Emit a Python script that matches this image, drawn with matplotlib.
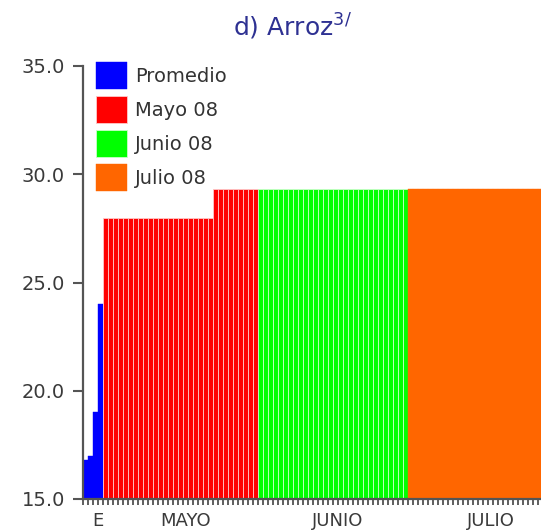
import matplotlib
matplotlib.use("Agg")
import matplotlib.pyplot as plt
import numpy as np

# ---- data ----
promedio = [16.8, 17.0, 19.0, 24.0]
mayo = [28.0, 28.0, 28.0, 28.0, 28.0, 28.0, 28.0, 28.0, 28.0, 28.0, 28.0,
        28.0, 28.0, 28.0, 28.0, 28.0, 28.0, 28.0, 28.0, 28.0, 28.0, 28.0,
        29.3, 29.3, 29.3, 29.3, 29.3, 29.3, 29.3, 29.3, 29.3]
junio = [29.3, 29.3, 29.3, 29.3, 29.3, 29.3, 29.3, 29.3, 29.3, 29.3,
         29.3, 29.3, 29.3, 29.3, 29.3, 29.3, 29.3, 29.3, 29.3, 29.3,
         29.3, 29.3, 29.3, 29.3, 29.3, 29.3, 29.3, 29.3, 29.3, 29.3]
julio = [29.3, 29.3, 29.3, 29.3, 29.3, 29.3, 29.3, 29.3, 29.3, 29.3,
         29.3, 29.3, 29.3, 29.3, 29.3, 29.3, 29.3, 29.3, 29.3, 29.3,
         29.3, 29.3, 29.3, 29.3, 29.3, 29.3, 29.3, 29.3, 29.3, 29.3, 29.3]
series_names = ["Promedio", "Mayo 08", "Junio 08", "Julio 08"]
group_labels = ["E", "MAYO", "JUNIO", "JULIO"]
yticks = [15.0, 20.0, 25.0, 30.0, 35.0]

colors = ["#0000ff", "#ff0000", "#00ff00", "#ff6600"]
edges = [None, "#ffc8c8", "#c8ffc8", None]

W, H = 541, 531
fig = plt.figure(figsize=(W / 100, H / 100), dpi=100)
ax = fig.add_axes([83 / W, 32 / H, (W - 83) / W, (499 - 66) / H])

groups = [promedio, mayo, junio, julio]
start = 0
centers = []
for vals, name, c, e in zip(groups, series_names, colors, edges):
    x = np.arange(start, start + len(vals))
    v = np.array(vals)
    if e is None:
        ax.bar(x, v - 15, bottom=15, width=1.0, color=c, edgecolor=c,
               linewidth=0.3, label=name)
    else:
        ax.bar(x, v - 15, bottom=15, width=1.0, color=c, edgecolor=e,
               linewidth=0.6, label=name)
    centers.append(start + (len(vals) - 1) / 2)
    start += len(vals)

ax.set_yticks(yticks)
ax.set_yticklabels([f"{t:.1f}" for t in yticks], fontsize=14, color="#3a3a3a")
ax.set_xticks(np.arange(0, start) - 0.5)
ax.set_xticklabels([])
ax.set_ylim(15, 35)
ax.set_xlim(-0.5, (W - 83) / 5.0 - 0.5)
ax.tick_params(axis="x", length=4, width=1.2, color="#444444", direction="out")
ax.tick_params(axis="y", length=7, width=1.5, color="#555555", direction="out", pad=6)

for s in ["top", "right"]:
    ax.spines[s].set_visible(False)
ax.spines["left"].set_linewidth(1.6)
ax.spines["left"].set_color("#555555")
ax.spines["bottom"].set_linewidth(1.6)
ax.spines["bottom"].set_color("#555555")

for cx, lab in zip(centers, group_labels):
    ax.annotate(lab, xy=(cx + 1.0, 0), xycoords=("data", "axes fraction"),
                xytext=(0, -15.5), textcoords="offset points",
                ha="center", va="center", fontsize=13, color="#3a3a3a",
                annotation_clip=False)

leg = ax.legend(loc="upper left", bbox_to_anchor=(96 / W, 1 - 62 / H),
                bbox_transform=fig.transFigure, frameon=False, fontsize=14,
                handlelength=1.6, handleheight=1.76, labelspacing=0.36,
                handletextpad=0.4, borderpad=0, borderaxespad=0)
for t in leg.get_texts():
    t.set_color("#333333")

fig.text(292 / W, 1 - 27 / H, "d) Arroz$^{3/}$", ha="center", va="center",
         fontsize=18, color="#2e3192")

fig.savefig("out.png", dpi=100)
